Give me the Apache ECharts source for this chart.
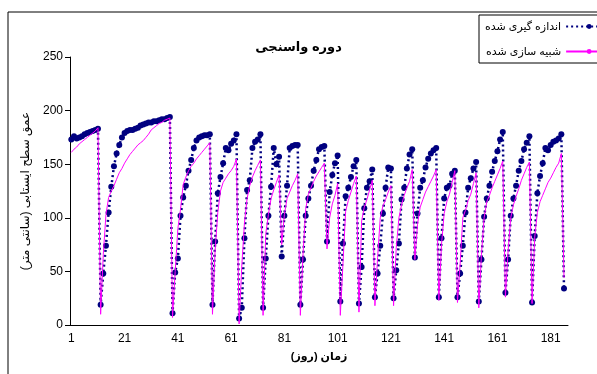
<!DOCTYPE html>
<html>
<head>
<meta charset="utf-8">
<script src="https://cdn.jsdelivr.net/npm/echarts@6/dist/echarts.min.js"></script>
<style>
    html, body { margin: 0; padding: 0; background: #fff; }
    #chart { width: 597px; height: 374px; }
</style>
</head>
<body>
<div id="chart"></div>
<script>
// روزها 1..187
var days = [];
for (var d = 1; d <= 187; d++) days.push(String(d));

// اندازه گیری شده (cm)
var measured = [
    173, 176, 174, 175, 176, 178, 179, 180, 181, 182, 183, 19,
    48, 74, 105, 129, 148, 160, 168, 175, 179, 181, 182, 182, 183, 184, 186, 187, 188, 189, 189, 190, 190, 191, 192, 192, 193, 194,
    11, 49, 62, 102, 119, 130, 144, 154, 165, 172, 175, 176, 177, 177, 178,
    19, 78, 123, 138, 151, 165, 163, 169, 172, 178,
    6, 16, 81, 126, 135, 165, 171, 173, 178,
    16, 62, 102, 129, 165, 150, 157,
    64, 102, 130, 165, 167, 168, 168,
    19, 61, 102, 118, 130, 144, 154, 164, 166, 167,
    78, 124, 140, 151, 158,
    22, 76, 120, 128, 138, 148, 154,
    20, 54, 109, 128, 134, 145,
    26, 48, 74, 104, 128, 147, 146,
    25, 51, 76, 117, 128, 146, 159, 164,
    63, 104, 128, 135, 147, 155, 160, 163, 165,
    26, 81, 118, 128, 130, 141, 144,
    26, 48, 74, 105, 128, 137, 146, 152,
    22, 61, 101, 118, 130, 143, 153, 162, 173, 180,
    30, 61, 102, 118, 130, 144, 153, 164, 170, 176,
    21, 83, 123, 139, 151, 165, 163, 168, 171, 172, 174, 178,
    34
];

// شبیه سازی شده (cm)
var simulated = [
    161, 164, 166, 169, 171, 173, 175, 177, 179, 181, 184, 10,
    66, 103, 119, 125, 130, 136, 142, 146, 151, 155, 159, 162, 165, 168, 170, 172, 175, 178, 182, 184, 186, 188, 189, 191, 192, 193,
    7, 50, 90, 108, 131, 138, 144, 148, 151, 155, 158, 161, 164, 167, 170,
    10, 70, 105, 125, 133, 137, 141, 144, 148, 155,
    1, 55, 95, 118, 130, 138, 144, 149, 154,
    9, 85, 103, 118, 126, 133, 140,
    75, 103, 118, 124, 130, 135, 141,
    9, 66, 108, 122, 128, 134, 139, 143, 147, 151,
    71, 100, 113, 121, 132,
    9, 57, 106, 116, 124, 132, 139,
    12, 97, 110, 117, 126, 135,
    18, 63, 100, 111, 117, 124, 130,
    18, 72, 100, 112, 121, 128, 134, 145,
    61, 94, 110, 117, 124, 129, 134, 139, 145,
    23, 75, 104, 115, 122, 133, 144,
    21, 57, 100, 107, 116, 122, 132, 142,
    16, 66, 100, 115, 121, 128, 134, 140, 146, 153,
    26, 69, 100, 112, 120, 127, 135, 141, 147, 152,
    20, 82, 105, 115, 121, 127, 133, 137, 142, 147, 151, 160,
    44
];

var yTicks = [0, 50, 100, 150, 200, 250];

var FONT = 'Liberation Sans, Arial, DejaVu Sans, sans-serif';

var chart = echarts.init(document.getElementById('chart'));

var option = {
    animation: false,
    backgroundColor: '#fff',
    textStyle: { fontFamily: FONT },
    title: {
        text: 'دوره واسنجی',
        left: 'center',
        top: 36,
        textStyle: { fontSize: 13, fontWeight: 'bold', color: '#000', fontFamily: FONT }
    },
    // کادر بیرونی نمودار
    graphic: [{
        type: 'rect',
        silent: true,
        shape: { x: 8, y: 12, width: 640, height: 420 },
        style: { fill: 'none', stroke: '#000', lineWidth: 1 }
    }],
    legend: {
        orient: 'vertical',
        left: 479,
        top: 15,
        align: 'right',
        padding: [6, 30, 6, 6],
        itemGap: 14,
        itemWidth: 46,
        itemHeight: 6,
        borderColor: '#000',
        borderWidth: 1,
        backgroundColor: '#fff',
        textStyle: { fontSize: 11, color: '#000', fontFamily: FONT },
        data: ['اندازه گیری شده', 'شبیه سازی شده']
    },
    grid: {
        left: 70,
        right: 29,
        top: 57,
        bottom: 49
    },
    xAxis: {
        type: 'category',
        data: days,
        boundaryGap: true,
        name: 'زمان (روز)',
        nameLocation: 'middle',
        nameGap: 26,
        nameTextStyle: { fontSize: 11, fontWeight: 'bold', color: '#000', fontFamily: FONT },
        axisLine: { lineStyle: { color: '#000', width: 1 } },
        axisTick: { interval: 0, length: 4, lineStyle: { color: '#000' } },
        axisLabel: { interval: 19, fontSize: 12, color: '#000', margin: 8 },
        splitLine: { show: false }
    },
    yAxis: {
        type: 'value',
        min: yTicks[0],
        max: yTicks[yTicks.length - 1],
        interval: 50,
        name: 'عمق سطح ایستابی (سانتی متر)',
        nameLocation: 'middle',
        nameGap: 33,
        nameTextStyle: { fontSize: 12, color: '#000', fontFamily: FONT },
        axisLine: { show: true, lineStyle: { color: '#000', width: 1 } },
        axisTick: { show: true, length: 5, lineStyle: { color: '#000' } },
        axisLabel: { fontSize: 12, color: '#000', margin: 7 },
        splitLine: { show: false }
    },
    series: [
        {
            name: 'اندازه گیری شده',
            type: 'line',
            data: measured,
            color: '#000080',
            symbol: 'circle',
            symbolSize: 6,
            showAllSymbol: true,
            lineStyle: { color: '#000080', width: 2.5, type: [2, 3] },
            itemStyle: { color: '#000080' },
            z: 2
        },
        {
            name: 'شبیه سازی شده',
            type: 'line',
            data: simulated,
            color: '#ff00ff',
            symbol: 'none',
            lineStyle: { color: '#ff00ff', width: 1 },
            z: 3
        }
    ]
};

chart.setOption(option);
</script>
</body>
</html>
